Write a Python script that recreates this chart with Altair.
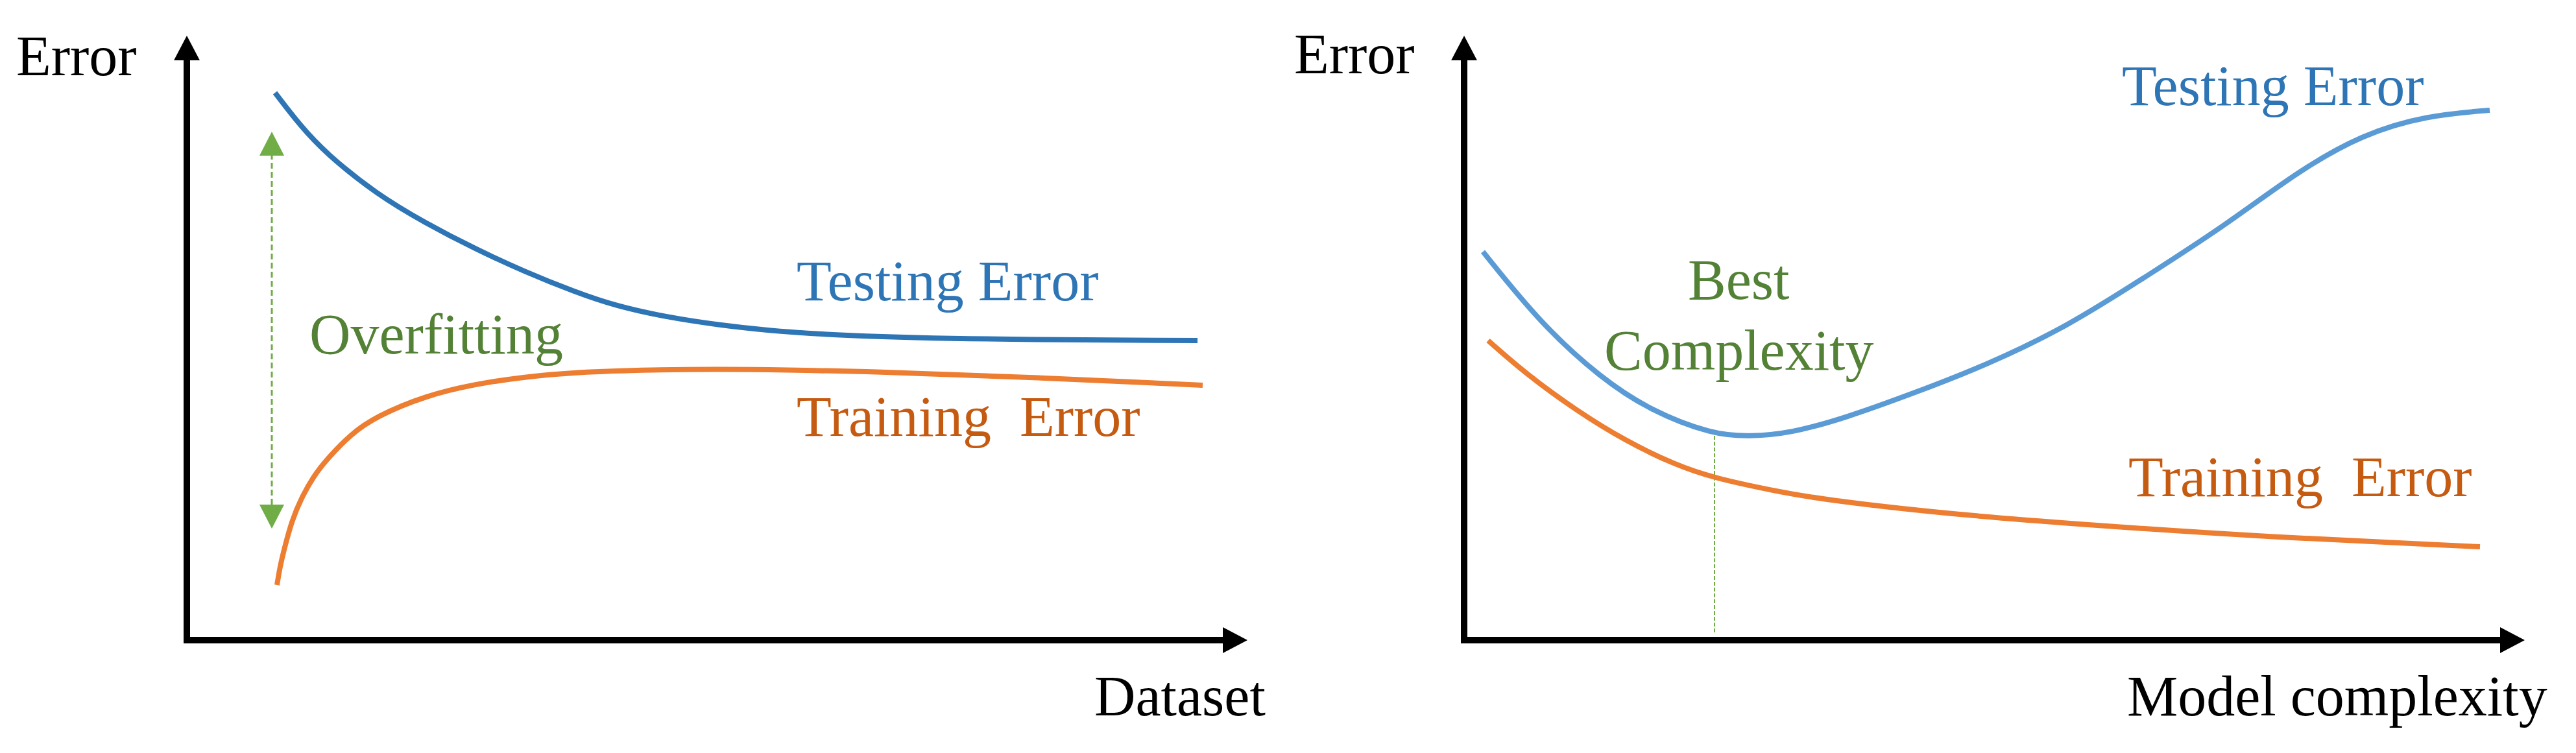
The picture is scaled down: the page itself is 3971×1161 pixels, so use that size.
import altair as alt
import pandas as pd

# ------------------------------------------------------------------
# Data (arbitrary units measured from each panel's axis origin)
# ------------------------------------------------------------------
# Left panel: error vs. dataset size
left_test_x = [136, 175, 215, 292, 368, 445, 521, 598, 662, 740, 819, 900, 984, 1175, 1558]
left_test_y = [844, 793, 750, 688, 643, 603, 568, 537, 515, 498, 486, 477, 471, 464, 462]
left_train_x = [139, 144, 150, 162, 177, 195, 215, 253, 292, 368, 445, 521, 598, 712, 862, 1062, 1312, 1566]
left_train_y = [85, 115, 140, 185, 220, 252, 278, 318, 345, 377, 395, 406, 413, 417, 418, 414, 405, 393]
overfit_x = 131
overfit_y = [172, 784]            # arrow tips (bottom, top)

# Right panel: error vs. model complexity
right_test_x = [29, 119, 211, 287, 383, 440, 503, 589, 691, 805, 931, 1058, 1174, 1287, 1385, 1484, 1581]
right_test_y = [599, 487, 404, 354, 317, 314, 319, 343, 380, 424, 484, 565, 640, 724, 780, 809, 817]
right_train_x = [37, 96, 173, 249, 326, 385, 479, 551, 741, 943, 1238, 1566]
right_train_y = [462, 410, 354, 307, 270, 250, 230, 217, 195, 179, 159, 144]
best_x = 386
best_y = [12, 315]

# Labels
left_labels = ["Error", "Dataset", "Testing Error", "Training\u00a0\u00a0Error", "Overfitting"]
left_label_x = [-263, 1399, 940, 940, 189]
left_label_y = [871, -116, 524, 315, 442]
left_label_c = ["#000000", "#000000", "#2E75B6", "#C55A11", "#538135"]

right_labels = ["Error", "Model complexity", "Testing Error", "Training\u00a0\u00a0Error", "Best", "Complexity"]
right_label_x = [-262, 1022, 1014, 1024, 345, 216]
right_label_y = [874, -116, 825, 222, 526, 417]
right_label_c = ["#000000", "#000000", "#2E75B6", "#C55A11", "#538135", "#538135"]

# ------------------------------------------------------------------
# Layout constants
# ------------------------------------------------------------------
FONT = "Liberation Serif"
FS = 88
H = 1145
Y_DOM = [-166, 979]
AX_END_Y = 894      # end of vertical axis shaft
AX_HEAD_Y = 913     # centre of vertical arrowhead
AX_END_X = 1597     # end of horizontal axis shaft
AX_HEAD_X = 1616    # centre of horizontal arrowhead

UP = "M0,-1L1.05,1L-1.05,1Z"
RIGHT = "M1,0L-1,1.05L-1,-1.05Z"
GUP = "M0,-1L1.03,1L-1.03,1Z"
GDOWN = "M0,1L1.03,-1L-1.03,-1Z"


def panel(width, x_dom, series, labels, extras):
    X = lambda f="x": alt.X(f"{f}:Q", scale=alt.Scale(domain=x_dom, nice=False, zero=False), axis=None)
    Y = lambda f="y": alt.Y(f"{f}:Q", scale=alt.Scale(domain=Y_DOM, nice=False, zero=False), axis=None)

    axes_df = pd.DataFrame({"x": [0, -5], "x2": [0, AX_END_X], "y": [-5, 0], "y2": [AX_END_Y, 0]})
    axes = alt.Chart(axes_df).mark_rule(color="black", strokeWidth=10, strokeCap="butt").encode(
        x=X(), x2="x2:Q", y=Y(), y2="y2:Q")
    head_up = alt.Chart(pd.DataFrame({"x": [0], "y": [AX_HEAD_Y]})).mark_point(
        shape=UP, size=1444, filled=True, color="black", opacity=1, strokeWidth=0).encode(x=X(), y=Y())
    head_rt = alt.Chart(pd.DataFrame({"x": [AX_HEAD_X], "y": [0]})).mark_point(
        shape=RIGHT, size=1444, filled=True, color="black", opacity=1, strokeWidth=0).encode(x=X(), y=Y())

    rows = []
    for name, xs, ys, col in series:
        for a, b in zip(xs, ys):
            rows.append({"series": name, "x": a, "y": b, "color": col})
    lines_df = pd.DataFrame(rows)
    lines = alt.Chart(lines_df).mark_line(interpolate="basis", strokeWidth=8, strokeCap="butt").encode(
        x=X(), y=Y(), detail="series:N", color=alt.Color("color:N", scale=None), order="x:Q")

    lab_df = pd.DataFrame({"label": labels[0], "x": labels[1], "y": labels[2], "color": labels[3]})
    texts = alt.Chart(lab_df).mark_text(align="left", baseline="alphabetic", font=FONT, fontSize=FS).encode(
        x=X(), y=Y(), text="label:N", color=alt.Color("color:N", scale=None))

    layers = [axes, head_up, head_rt] + extras(X, Y) + [lines, texts]
    return alt.layer(*layers).properties(width=width, height=H)


def left_extras(X, Y):
    lo, hi = overfit_y
    dash = alt.Chart(pd.DataFrame({"x": [overfit_x], "y": [lo + 37], "y2": [hi - 37]})).mark_rule(
        color="#70AD47", strokeWidth=3, strokeDash=[9, 5]).encode(x=X(), y=Y(), y2="y2:Q")
    up = alt.Chart(pd.DataFrame({"x": [overfit_x], "y": [hi - 18.5]})).mark_point(
        shape=GUP, size=1369, filled=True, color="#70AD47", opacity=1, strokeWidth=0).encode(x=X(), y=Y())
    down = alt.Chart(pd.DataFrame({"x": [overfit_x], "y": [lo + 18.5]})).mark_point(
        shape=GDOWN, size=1369, filled=True, color="#70AD47", opacity=1, strokeWidth=0).encode(x=X(), y=Y())
    return [dash, up, down]


def right_extras(X, Y):
    dash = alt.Chart(pd.DataFrame({"x": [best_x], "y": [best_y[0]], "y2": [best_y[1]]})).mark_rule(
        color="#70AD47", strokeWidth=2, strokeDash=[6, 3]).encode(x=X(), y=Y(), y2="y2:Q")
    return [dash]


left = panel(
    1977, [-280, 1697],
    [("Testing Error", left_test_x, left_test_y, "#2E75B6"),
     ("Training Error", left_train_x, left_train_y, "#ED7D31")],
    (left_labels, left_label_x, left_label_y, left_label_c),
    left_extras,
)

right = panel(
    1978, [-272, 1706],
    [("Testing Error", right_test_x, right_test_y, "#5B9BD5"),
     ("Training Error", right_train_x, right_train_y, "#ED7D31")],
    (right_labels, right_label_x, right_label_y, right_label_c),
    right_extras,
)

chart = alt.hconcat(left, right, spacing=0, padding=0, background="white").configure_view(stroke=None)

chart.save("out.html", embed_options={"renderer": "svg", "actions": False})
